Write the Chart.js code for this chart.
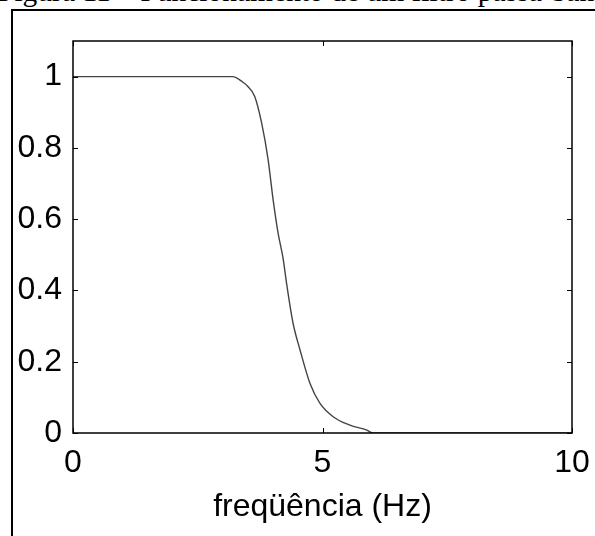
<!DOCTYPE html>
<html>
<head>
<meta charset="utf-8">
<script src="https://cdn.jsdelivr.net/npm/chart.js@4/dist/chart.umd.min.js"></script>
<style>
  html, body { margin: 0; padding: 0; background: #fff; overflow: hidden; width: 595px; height: 536px; }
  #caption {
    position: absolute; left: -2px; top: -25px; white-space: nowrap;
    font-family: 'Liberation Serif', 'Times New Roman', serif; font-size: 29.5px; color: #000;
  }
  #frame {
    position: absolute; left: 11px; top: 9px; width: 700px; height: 700px;
    border: 2px solid #000;
  }
  #filter-chart { position: absolute; left: 0; top: 0; }
</style>
</head>
<body>
<div id="caption">Figura 11 – Funcionamento de um filtro passa-banda</div>
<div id="frame"></div>
<canvas id="filter-chart" width="595" height="536"></canvas>
<script>
const filterCanvas = document.getElementById('filter-chart');

// values
const freqHz = [0, 3.2, 3.4, 3.5, 3.64, 3.78, 3.91, 4.01, 4.11, 4.21, 4.28, 4.41, 4.55, 4.75, 4.95, 5.22, 5.55, 5.89, 6.0, 10];
const gain = [1, 1, 0.985, 0.973, 0.945, 0.87, 0.767, 0.655, 0.561, 0.49, 0.42, 0.308, 0.233, 0.139, 0.083, 0.045, 0.022, 0.008, 0, 0];
const xTicks = [0, 5, 10];
const yTicks = [0, 0.2, 0.4, 0.6, 0.8, 1];

const fontFamily = "'Liberation Sans', Arial, sans-serif";

// frame + inward ticks on all four sides (matlab box style)
const boxPlugin = {
  id: 'box',
  afterDraw(chart) {
    const { ctx, chartArea: a, scales } = chart;
    ctx.save();
    ctx.strokeStyle = '#000';
    ctx.lineWidth = 1.5;
    ctx.strokeRect(a.left, a.top, a.right - a.left, a.bottom - a.top);
    ctx.lineWidth = 1;
    ctx.beginPath();
    xTicks.forEach(v => {
      const px = Math.round(scales.x.getPixelForValue(v)) + 0.5;
      ctx.moveTo(px, a.bottom); ctx.lineTo(px, a.bottom - 5);
      ctx.moveTo(px, a.top); ctx.lineTo(px, a.top + 5);
    });
    yTicks.forEach(v => {
      const py = Math.round(scales.y.getPixelForValue(v)) + 0.5;
      ctx.moveTo(a.left, py); ctx.lineTo(a.left + 5, py);
      ctx.moveTo(a.right, py); ctx.lineTo(a.right - 5, py);
    });
    ctx.stroke();
    ctx.restore();
  }
};

const filterData = {
  datasets: [{
    data: freqHz.map((f, i) => ({ x: f, y: gain[i] })),
    borderColor: '#444',
    borderWidth: 1.4,
    pointRadius: 0,
    cubicInterpolationMode: 'monotone',
    fill: false,
  }]
};

const filterOptions = {
  responsive: false,
  animation: false,
  devicePixelRatio: 1,
  layout: {
    padding: { top: 41, right: 23, left: 0, bottom: 0 }
  },
  scales: {
    x: {
      type: 'linear',
      min: 0,
      max: 10,
      afterBuildTicks: s => { s.ticks = xTicks.map(v => ({ value: v })); },
      afterFit: s => { s.height = 103; s.paddingLeft = 0; s.paddingRight = 0; },
      grid: { display: false, drawTicks: false },
      border: { display: false },
      ticks: {
        padding: 11,
        color: '#000',
        maxRotation: 0,
        font: { family: fontFamily, size: 32 }
      },
      title: {
        display: true,
        text: 'freqüência (Hz)',
        color: '#000',
        font: { family: fontFamily, size: 32 },
        padding: { top: 0, bottom: 10 }
      }
    },
    y: {
      min: 0,
      max: 1.1,
      afterBuildTicks: s => { s.ticks = yTicks.map(v => ({ value: v })); },
      afterFit: s => { s.width = 73; s.paddingTop = 0; s.paddingBottom = 0; },
      grid: { display: false, drawTicks: false },
      border: { display: false },
      ticks: {
        padding: 11,
        color: '#000',
        font: { family: fontFamily, size: 32 },
        callback: v => String(v)
      }
    }
  },
  plugins: {
    legend: { display: false },
    tooltip: { enabled: false }
  }
};

const filterChart = new Chart(filterCanvas, {
  type: 'line',
  data: filterData,
  options: filterOptions,
  plugins: [boxPlugin]
});
</script>
</body>
</html>
